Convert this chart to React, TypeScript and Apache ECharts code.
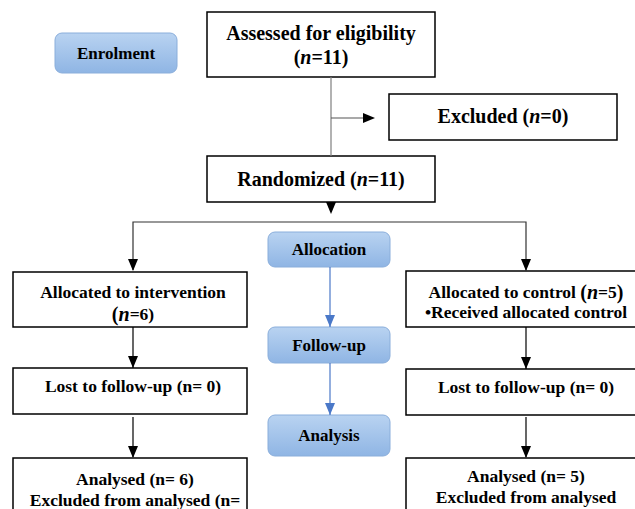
import React, { useEffect, useRef } from "react";
import * as echarts from "echarts";

// ---- content (texts & counts) ----
const stages = ["Enrolment", "Allocation", "Follow-up", "Analysis"];
const assessedN = 11;
const excludedN = 0;
const randomizedN = 11;
const interventionN = 6;
const controlN = 5;
const lostN = [0, 0];
const analysedN = [6, 5];

const FONT = "'Liberation Serif', 'Times New Roman', serif";
const TOP_FS = 20;
const LOW_FS = 17.5;

export default function App() {
  const ref = useRef<HTMLDivElement>(null);
  useEffect(() => {
    const chart = echarts.init(ref.current!, undefined, { renderer: "svg" });
    const rich = (fs: number) => ({
      b: { fontFamily: FONT, fontWeight: "bold", fontSize: fs, fill: "#000", lineHeight: fs + 4 },
      i: { fontFamily: FONT, fontWeight: "bold", fontStyle: "italic", fontSize: fs, fill: "#000", lineHeight: fs + 4 },
      p: { fontFamily: FONT, fontWeight: "bold", fontSize: fs + 2.5, fill: "#000", lineHeight: fs + 4 },
      pi: { fontFamily: FONT, fontWeight: "bold", fontStyle: "italic", fontSize: fs + 2.5, fill: "#000", lineHeight: fs + 4 },
    });
    const els: any[] = [];
    const box = (x: number, y: number, w: number, h: number) =>
      els.push({ type: "rect", shape: { x, y, width: w, height: h }, style: { fill: "#fff", stroke: "#000", lineWidth: 1.5 }, z: 1 });
    const text = (x: number, y: number, t: string, fs: number) =>
      els.push({ type: "text", x, y, style: { text: t, rich: rich(fs), align: "center", verticalAlign: "middle" }, z: 5 });
    const line = (pts: number[][], color = "#000") =>
      els.push({ type: "polyline", shape: { points: pts }, style: { stroke: color, lineWidth: 1.2, fill: null }, z: 2 });
    const headDown = (x: number, yTip: number, color = "#000") =>
      els.push({ type: "polygon", shape: { points: [[x - 5, yTip - 12], [x + 5, yTip - 12], [x, yTip]] }, style: { fill: color }, z: 3 });
    const headRight = (xTip: number, y: number) =>
      els.push({ type: "polygon", shape: { points: [[xTip - 12, y - 5], [xTip - 12, y + 5], [xTip, y]] }, style: { fill: "#000" }, z: 3 });
    const blue = (x: number, y: number, w: number, h: number, label: string) => {
      els.push({
        type: "rect", shape: { x, y, width: w, height: h, r: 7 },
        style: {
          fill: new echarts.graphic.LinearGradient(0, 0, 0, 1, [
            { offset: 0, color: "#b9d3f1" },
            { offset: 1, color: "#8fb5e4" },
          ]),
          stroke: "#8aaedb", lineWidth: 1,
        }, z: 1,
      });
      els.push({ type: "text", x: x + w / 2, y: y + h / 2, style: { text: label, fontFamily: FONT, fontWeight: "bold", fontSize: 17, fill: "#000", align: "center", verticalAlign: "middle" }, z: 5 });
    };

    // stage labels
    blue(55, 33, 122, 40, stages[0]);
    blue(268, 232, 122, 35, stages[1]);
    blue(268, 327, 122, 36, stages[2]);
    blue(268, 415, 122, 41, stages[3]);
    // blue arrows
    line([[330, 267], [330, 327]], "#4a78c8");
    headDown(330, 327, "#4a78c8");
    line([[330, 363], [330, 415]], "#4a78c8");
    headDown(330, 415, "#4a78c8");

    // top section
    box(207, 12, 228, 65);
    text(321, 33, "{b|Assessed for eligibility}", TOP_FS);
    text(321, 57, `{b|(}{i|n}{b|=${assessedN})}`, TOP_FS);
    line([[331, 77], [331, 156]], "#7f7f7f");
    line([[331, 118], [368, 118]], "#555");
    headRight(375, 118);
    box(389, 94, 228, 46);
    text(503, 116, `{b|Excluded (}{i|n}{b|=${excludedN})}`, TOP_FS);
    box(207, 156, 228, 46);
    text(321, 179, `{b|Randomized (}{i|n}{b|=${randomizedN})}`, TOP_FS);
    line([[331, 202], [331, 212]]);
    headDown(331, 214);
    line([[133, 270], [133, 222], [526, 222], [526, 270]], "#333");
    headDown(133, 271);
    headDown(526, 271);

    // left column
    box(13, 272, 234, 55);
    text(133, 292, "{b|Allocated to intervention}", LOW_FS);
    text(133, 314, `{p|(}{pi|n}{b|=${interventionN})}`, LOW_FS);
    line([[133, 327], [133, 368]]);
    headDown(133, 368);
    box(13, 368, 234, 46);
    text(133, 386, `{b|Lost to follow-up (n= ${lostN[0]})}`, LOW_FS);
    line([[133, 417], [133, 457]]);
    headDown(133, 458);
    box(13, 458, 234, 60);
    text(135, 479, `{b|Analysed (n= ${analysedN[0]})}`, LOW_FS);
    text(135, 500, "{b|Excluded from analysed (n=}", LOW_FS);

    // right column
    box(406, 271, 240, 56);
    text(526, 292, `{b|Allocated to control }{p|(}{pi|n}{b|=${controlN}}{p|)}`, LOW_FS);
    text(526, 312, "{b|•Received allocated control}", LOW_FS);
    line([[526, 327], [526, 369]]);
    headDown(526, 369);
    box(406, 369, 240, 46);
    text(526, 387, `{b|Lost to follow-up (n= ${lostN[1]})}`, LOW_FS);
    line([[526, 417], [526, 457]]);
    headDown(526, 458);
    box(406, 458, 240, 60);
    text(526, 476, `{b|Analysed (n= ${analysedN[1]})}`, LOW_FS);
    text(526, 497, "{b|Excluded from analysed}", LOW_FS);

    chart.setOption({ animation: false, graphic: { elements: els } });
    return () => chart.dispose();
  }, []);
  return <div ref={ref} style={{ position: "fixed", left: 0, top: 0, width: 635, height: 509, background: "#fff" }} />;
}
